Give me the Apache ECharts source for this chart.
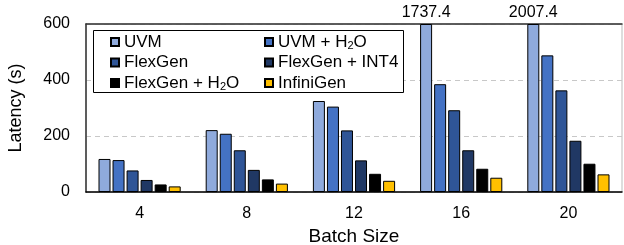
<!DOCTYPE html>
<html>
<head>
<meta charset="utf-8">
<script src="https://cdn.jsdelivr.net/npm/echarts@6/dist/echarts.min.js"></script>
<style>
  html, body { margin: 0; padding: 0; background: #fff; }
  #chart { width: 624px; height: 245px; }
</style>
</head>
<body>
<div id="chart"></div>
<script>
const batchSizes = ['4', '8', '12', '16', '20'];
const uvm = [118, 221, 325, 1737.4, 2007.4];
const uvmH2o = [114, 208, 305, 385, 488];
const flexgen = [77, 149, 220, 292, 363];
const flexgenInt4 = [43, 79, 113, 149, 183];
const flexgenH2o = [27, 45, 65, 83, 101];
const infinigen = [20, 30, 40, 51, 63];
const yTicks = [0, 200, 400, 600];

const yMax = yTicks[yTicks.length - 1];
const font = 'Liberation Sans, Arial, sans-serif';

const seriesDefs = [
  { name: 'UVM', data: uvm, color: '#8faadc' },
  { name: 'UVM + H2O', data: uvmH2o, color: '#4472c4' },
  { name: 'FlexGen', data: flexgen, color: '#2f5597' },
  { name: 'FlexGen + INT4', data: flexgenInt4, color: '#203864' },
  { name: 'FlexGen + H2O', data: flexgenH2o, color: '#000000' },
  { name: 'InfiniGen', data: infinigen, color: '#ffc000' }
];

const chart = echarts.init(document.getElementById('chart'));

const legendText = {
  fontFamily: font,
  fontSize: 17,
  lineHeight: 18,
  color: '#000',
  rich: {
    n: { fontFamily: font, fontSize: 17, lineHeight: 18, color: '#000' },
    sub: { fontFamily: font, fontSize: 11, lineHeight: 9, verticalAlign: 'bottom', color: '#000' }
  }
};
// H2O -> H with subscript 2
const fmt = name => {
  const parts = name.split('H2O');
  if (parts.length === 1) return '{n|' + name + '}';
  return '{n|' + parts[0] + 'H}{sub|2}{n|O' + parts[1] + '}';
};

const legendBase = {
  orient: 'vertical', top: 28, itemGap: 2.5,
  itemWidth: 8, itemHeight: 8, icon: 'rect',
  textStyle: legendText, formatter: fmt, z: 10
};

const option = {
  animation: false,
  grid: {
    left: 86, right: 2, top: 24, bottom: 53,
    outerBoundsMode: 'none',
    containLabel: false,
    show: true,
    borderColor: '#bbbbbb',
    borderWidth: 1
  },
  graphic: [{
    type: 'rect',
    left: 93, top: 30,
    shape: { width: 310, height: 62 },
    style: { fill: '#fff', stroke: '#000', lineWidth: 1 },
    z: 5
  }],
  legend: [
    Object.assign({ left: 105, data: seriesDefs.filter((s, i) => i % 2 === 0).map(s => s.name) }, legendBase),
    Object.assign({ left: 259, data: seriesDefs.filter((s, i) => i % 2 === 1).map(s => s.name) }, legendBase)
  ],
  xAxis: [
    {
      type: 'category',
      data: batchSizes,
      name: 'Batch Size',
      nameLocation: 'middle',
      nameGap: 35,
      nameTextStyle: { fontFamily: font, fontSize: 19, color: '#000' },
      axisLine: { lineStyle: { color: '#000', width: 1.5 } },
      axisTick: { show: false },
      axisLabel: { fontFamily: font, fontSize: 16, color: '#000', margin: 14 }
    },
    {
      type: 'category',
      data: batchSizes,
      position: 'top',
      axisLine: { lineStyle: { color: '#333', width: 1.5 } },
      axisTick: { show: false },
      axisLabel: { show: false }
    }
  ],
  yAxis: {
    type: 'value',
    min: 0,
    max: yMax,
    interval: 200,
    name: 'Latency (s)',
    nameLocation: 'middle',
    nameGap: 61,
    nameTextStyle: { fontFamily: font, fontSize: 18, color: '#000' },
    axisLine: { show: true, lineStyle: { color: '#333', width: 1.5 } },
    axisTick: { show: false },
    axisLabel: { fontFamily: font, fontSize: 16, color: '#000', margin: 16 },
    splitLine: { lineStyle: { color: '#c8c8c8', type: [5, 4] } }
  },
  series: seriesDefs.map(s => ({
    name: s.name,
    type: 'bar',
    barWidth: 12,
    barGap: '17%',
    data: s.data.map(v => ({
      value: Math.min(v, yMax),
      label: v > yMax ? {
        show: true, position: 'top', distance: 3,
        formatter: String(v),
        fontFamily: font, fontSize: 16, color: '#000'
      } : { show: false }
    })),
    itemStyle: { color: s.color, borderColor: '#000', borderWidth: 1 }
  }))
};

chart.setOption(option);
</script>
</body>
</html>
